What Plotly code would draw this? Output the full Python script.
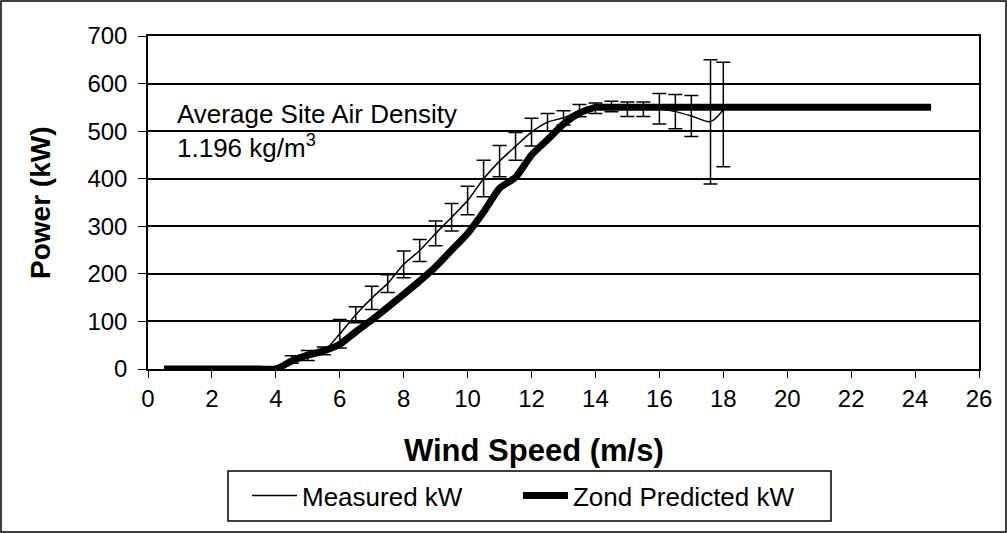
import plotly.graph_objects as go

# Measured power curve (bin averages with +/- spread)
meas_speed = [4.0, 4.5, 5.0, 5.5, 6.0, 6.5, 7.0, 7.5, 8.0, 8.5, 9.0, 9.5, 10.0,
              10.5, 11.0, 11.5, 12.0, 12.5, 13.0, 13.5, 14.0, 14.5, 15.0, 15.5,
              16.0, 16.5, 17.0, 17.6, 18.0]
meas_kw = [1, 20, 28, 38, 74, 114, 149, 180, 220, 249, 285, 319, 354,
           400, 437, 468, 498, 519, 528, 543, 548, 552, 546, 546,
           547, 541, 532, 520, 545]
meas_err_plus = [2, 8, 11, 8, 30, 17, 25, 18, 28, 23, 26, 29, 30,
                 39, 33, 29, 29, 18, 15, 13, 11, 11, 15, 15,
                 32, 36, 43, 130, 100]
meas_err_minus = [2, 8, 10, 8, 30, 17, 24, 19, 28, 23, 26, 29, 30,
                  38, 33, 29, 29, 18, 15, 13, 11, 11, 15, 15,
                  32, 36, 43, 131, 120]

# Manufacturer (Zond) predicted power curve
pred_speed = [0.5, 1.0, 1.5, 2.0, 2.5, 3.0, 3.5, 4.0, 4.5, 5.0, 5.5, 6.0, 6.5,
              7.0, 7.5, 8.0, 8.5, 9.0, 9.5, 10.0, 10.5, 11.0, 11.5, 12.0,
              12.5, 13.0, 13.5, 14.0, 14.5, 15.0, 15.5, 16.0, 16.5, 17.0,
              17.5, 18.0, 18.5, 19.0, 19.5, 20.0, 20.5, 21.0, 21.5, 22.0,
              22.5, 23.0, 23.5, 24.0, 24.5]
pred_kw = [0, 0, 0, 0, 0, 0, 0, 0, 17, 29, 38, 52, 78,
           103, 130, 157, 185, 215, 250, 285, 330, 380, 403, 450,
           482, 515, 538, 550, 550, 550, 550, 550, 550, 550,
           550, 550, 550, 550, 550, 550, 550, 550, 550, 550,
           550, 550, 550, 550, 550]

x_ticks = list(range(0, 27, 2))
y_ticks = list(range(0, 701, 100))

FONT = "Arial, Liberation Sans, sans-serif"
W, H = 1007, 533
ML, MR, MT, MB = 148, 28, 36, 164
PW, PH = W - ML - MR, H - MT - MB


def px(x):
    return (x - ML) / PW


def py(y):
    return (H - MB - y) / PH


PAD = "&nbsp;"

fig = go.Figure()

fig.add_trace(go.Scatter(
    x=meas_speed, y=meas_kw, name="Measured kW" + PAD * 7, mode="lines",
    line=dict(color="black", width=1.5, shape="spline", smoothing=0.8),
    error_y=dict(type="data", symmetric=False, array=meas_err_plus,
                 arrayminus=meas_err_minus, color="black",
                 thickness=1.5, width=7),
    cliponaxis=False,
))

fig.add_trace(go.Scatter(
    x=pred_speed, y=pred_kw, name="Zond Predicted kW", mode="lines",
    line=dict(color="black", width=7, shape="spline", smoothing=0.6),
    cliponaxis=False,
))

fig.update_layout(
    width=W, height=H,
    margin=dict(l=ML, r=MR, t=MT, b=MB),
    paper_bgcolor="white", plot_bgcolor="white",
    font=dict(family=FONT, color="black", size=24),
    showlegend=True,
    legend=dict(
        orientation="h", x=px(247), xanchor="left", y=py(472), yanchor="top",
        borderwidth=0, bgcolor="rgba(0,0,0,0)",
        font=dict(size=26, family=FONT), itemwidth=45,
    ),
    xaxis=dict(
        range=[0, 26], tickvals=x_ticks, ticktext=[str(v) for v in x_ticks],
        showgrid=False, zeroline=False,
        showline=True, linecolor="black", linewidth=1.5, mirror=True,
        ticks="outside", ticklen=7, tickwidth=1, tickcolor="black",
        tickfont=dict(size=24),
    ),
    yaxis=dict(
        range=[0, 700], tickvals=y_ticks, ticktext=[str(v) for v in y_ticks],
        showgrid=True, gridcolor="black", gridwidth=1.5, zeroline=False,
        showline=True, linecolor="black", linewidth=1.5, mirror=True,
        ticks="outside", ticklen=8, tickwidth=1, tickcolor="black",
        tickfont=dict(size=24), ticklabelstandoff=6,
    ),
    annotations=[
        dict(text="<b>Wind Speed (m/s)</b>", xref="paper", yref="paper",
             x=px(534), y=py(450), xanchor="center", yanchor="middle",
             showarrow=False, font=dict(size=31)),
        dict(text="<b>Power (kW)</b>", xref="paper", yref="paper",
             x=px(40), y=py(203), xanchor="center", yanchor="middle",
             textangle=-90, showarrow=False, font=dict(size=28)),
        dict(text="Average Site Air Density", xref="paper", yref="paper",
             x=px(175), y=py(114), xanchor="left", yanchor="middle",
             showarrow=False, font=dict(size=26)),
        dict(text="1.196 kg/m<sup>3</sup>", xref="paper", yref="paper",
             x=px(175), y=py(146), xanchor="left", yanchor="middle",
             showarrow=False, font=dict(size=26)),
    ],
    shapes=[
        # outer chart frame
        dict(type="rect", xref="paper", yref="paper",
             x0=px(1), x1=px(W - 1), y0=py(H - 1), y1=py(1),
             line=dict(color="black", width=1.5), fillcolor="rgba(0,0,0,0)"),
        # legend frame
        dict(type="rect", xref="paper", yref="paper",
             x0=px(228), x1=px(831), y0=py(521), y1=py(471),
             line=dict(color="black", width=1.5), fillcolor="rgba(0,0,0,0)"),
    ],
)

fig.write_html("out.html")
